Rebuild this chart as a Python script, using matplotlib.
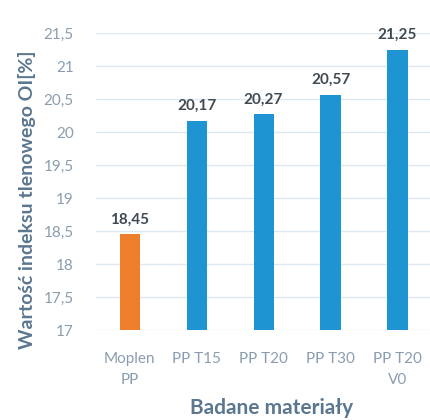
import matplotlib
matplotlib.use("Agg")
import matplotlib.pyplot as plt

plt.rcParams['font.family'] = ['Lato', 'DejaVu Sans']

# Oxygen index values for each tested material
materials = ["Moplen\nPP", "PP T15", "PP T20", "PP T30", "PP T20\nV0"]
oi_values = [18.45, 20.17, 20.27, 20.57, 21.25]
bar_colors = ["#EE7D2C", "#1E94D2", "#1E94D2", "#1E94D2", "#1E94D2"]
yticks = [17, 17.5, 18, 18.5, 19, 19.5, 20, 20.5, 21, 21.5]

def pl(v):
    # Polish decimal comma
    s = ("%.2f" % v).rstrip("0").rstrip(".")
    return s.replace(".", ",")

fig = plt.figure(figsize=(4.31, 4.20), dpi=100)
ax = fig.add_axes([0.223, 0.214, 0.777, 0.707])

x = range(len(materials))
bars = ax.bar(x, [v - 17 for v in oi_values], bottom=17, width=0.3,
              color=bar_colors, zorder=3)

for xi, v in zip(x, oi_values):
    ax.text(xi, v + 0.12, ("%.2f" % v).replace(".", ","), ha="center",
            va="bottom", fontsize=11, fontweight="bold", color="#404A52")

ax.set_ylim(17, 21.5)
ax.set_xlim(-0.5, len(materials) - 0.5)
ax.set_yticks(yticks)
ax.set_yticklabels([pl(t) for t in yticks])
ax.set_xticks(list(x))
ax.set_xticklabels(materials, linespacing=1.6)
ax.grid(axis="y", color="#DDE8F2", linewidth=1, zorder=0)
for s in ax.spines.values():
    s.set_visible(False)
ax.tick_params(length=0)
ax.tick_params(axis="y", pad=16, labelsize=11, labelcolor="#8A9DB0")
ax.tick_params(axis="x", pad=16, labelsize=11, labelcolor="#8A9DB0")

ax.set_ylabel("Wartość indeksu tlenowego OI[%]", fontsize=14, fontweight="bold",
              color="#5B7790")
ax.yaxis.set_label_coords(-0.18, 0.44)
ax.set_xlabel("Badane materiały", fontsize=15, fontweight="bold",
              color="#5B7790", va="center")
ax.xaxis.set_label_coords(0.525, -0.262)

fig.savefig("out.png", dpi=100)
